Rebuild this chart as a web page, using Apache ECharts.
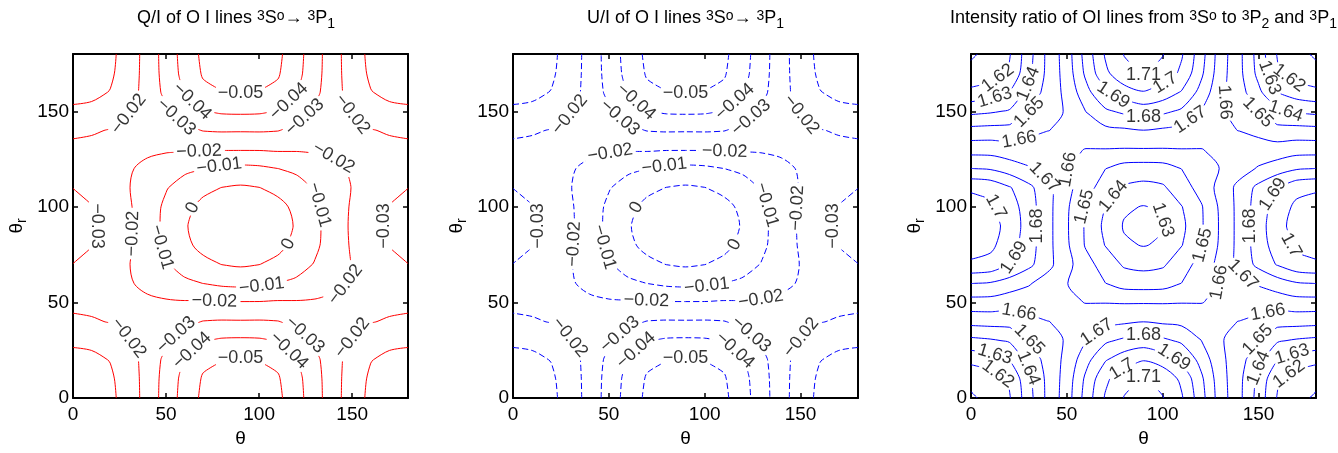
<!DOCTYPE html>
<html>
<head>
<meta charset="utf-8">
<title>O I line polarization maps</title>
<script src="https://cdn.jsdelivr.net/npm/echarts@6.0.0/dist/echarts.min.js"></script>
<style>
  html, body { margin: 0; padding: 0; background: #fff; }
  #chart { width: 1338px; height: 453px; }
</style>
</head>
<body>
<div id="chart"></div>
<script>
// Sample angles (degrees) of the computed maps; used for both theta and theta_r
const angleSamples = [0, 10, 20, 30, 40, 50, 60, 70, 80, 90, 100, 110, 120, 130, 140, 150, 160, 170, 180];
const angleTicks = [0, 50, 100, 150];

// Contour levels
const qOverILevels = [-0.05, -0.04, -0.03, -0.02, -0.01, 0];
const uOverILevels = [-0.05, -0.04, -0.03, -0.02, -0.01, 0];
const ratioLevels = [1.61, 1.62, 1.63, 1.64, 1.65, 1.66, 1.67, 1.68, 1.69, 1.7, 1.71];

// Q/I map: rows are theta_r = 0..180, columns are theta = 0..180
const qOverI = [
  [-0.0040,-0.0053,-0.0079,-0.0144,-0.0240,-0.0340,-0.0440,-0.0521,-0.0552,-0.0560,-0.0552,-0.0521,-0.0440,-0.0340,-0.0240,-0.0144,-0.0079,-0.0053,-0.0040],
  [-0.0049,-0.0061,-0.0086,-0.0148,-0.0240,-0.0336,-0.0432,-0.0510,-0.0540,-0.0547,-0.0540,-0.0510,-0.0432,-0.0336,-0.0240,-0.0148,-0.0086,-0.0061,-0.0049],
  [-0.0073,-0.0082,-0.0103,-0.0158,-0.0239,-0.0324,-0.0410,-0.0479,-0.0498,-0.0506,-0.0498,-0.0479,-0.0410,-0.0324,-0.0239,-0.0158,-0.0103,-0.0082,-0.0073],
  [-0.0115,-0.0119,-0.0140,-0.0196,-0.0240,-0.0290,-0.0347,-0.0397,-0.0414,-0.0417,-0.0414,-0.0397,-0.0347,-0.0290,-0.0240,-0.0196,-0.0140,-0.0119,-0.0115],
  [-0.0175,-0.0190,-0.0205,-0.0225,-0.0235,-0.0255,-0.0278,-0.0303,-0.0308,-0.0307,-0.0308,-0.0303,-0.0278,-0.0255,-0.0235,-0.0225,-0.0205,-0.0190,-0.0175],
  [-0.0232,-0.0228,-0.0222,-0.0225,-0.0220,-0.0212,-0.0209,-0.0211,-0.0206,-0.0206,-0.0206,-0.0211,-0.0209,-0.0212,-0.0220,-0.0225,-0.0222,-0.0228,-0.0232],
  [-0.0271,-0.0255,-0.0228,-0.0210,-0.0174,-0.0145,-0.0119,-0.0099,-0.0081,-0.0073,-0.0081,-0.0099,-0.0119,-0.0145,-0.0174,-0.0210,-0.0228,-0.0255,-0.0271],
  [-0.0299,-0.0279,-0.0241,-0.0203,-0.0156,-0.0106,-0.0060,-0.0024,0.0002,0.0012,0.0002,-0.0024,-0.0060,-0.0106,-0.0156,-0.0203,-0.0241,-0.0279,-0.0299],
  [-0.0328,-0.0303,-0.0259,-0.0211,-0.0148,-0.0082,-0.0021,0.0027,0.0059,0.0071,0.0059,0.0027,-0.0021,-0.0082,-0.0148,-0.0211,-0.0259,-0.0303,-0.0328],
  [-0.0340,-0.0314,-0.0267,-0.0215,-0.0147,-0.0076,-0.0009,0.0043,0.0077,0.0090,0.0077,0.0043,-0.0009,-0.0076,-0.0147,-0.0215,-0.0267,-0.0314,-0.0340],
  [-0.0328,-0.0303,-0.0259,-0.0211,-0.0148,-0.0082,-0.0021,0.0027,0.0059,0.0071,0.0059,0.0027,-0.0021,-0.0082,-0.0148,-0.0211,-0.0259,-0.0303,-0.0328],
  [-0.0299,-0.0279,-0.0241,-0.0203,-0.0156,-0.0106,-0.0060,-0.0024,0.0002,0.0012,0.0002,-0.0024,-0.0060,-0.0106,-0.0156,-0.0203,-0.0241,-0.0279,-0.0299],
  [-0.0271,-0.0255,-0.0228,-0.0210,-0.0174,-0.0145,-0.0119,-0.0099,-0.0081,-0.0073,-0.0081,-0.0099,-0.0119,-0.0145,-0.0174,-0.0210,-0.0228,-0.0255,-0.0271],
  [-0.0232,-0.0228,-0.0222,-0.0225,-0.0220,-0.0212,-0.0209,-0.0211,-0.0206,-0.0206,-0.0206,-0.0211,-0.0209,-0.0212,-0.0220,-0.0225,-0.0222,-0.0228,-0.0232],
  [-0.0175,-0.0190,-0.0205,-0.0225,-0.0235,-0.0255,-0.0278,-0.0303,-0.0308,-0.0307,-0.0308,-0.0303,-0.0278,-0.0255,-0.0235,-0.0225,-0.0205,-0.0190,-0.0175],
  [-0.0115,-0.0119,-0.0140,-0.0196,-0.0240,-0.0290,-0.0347,-0.0397,-0.0414,-0.0417,-0.0414,-0.0397,-0.0347,-0.0290,-0.0240,-0.0196,-0.0140,-0.0119,-0.0115],
  [-0.0073,-0.0082,-0.0103,-0.0158,-0.0239,-0.0324,-0.0410,-0.0479,-0.0498,-0.0506,-0.0498,-0.0479,-0.0410,-0.0324,-0.0239,-0.0158,-0.0103,-0.0082,-0.0073],
  [-0.0049,-0.0061,-0.0086,-0.0148,-0.0240,-0.0336,-0.0432,-0.0510,-0.0540,-0.0547,-0.0540,-0.0510,-0.0432,-0.0336,-0.0240,-0.0148,-0.0086,-0.0061,-0.0049],
  [-0.0040,-0.0053,-0.0079,-0.0144,-0.0240,-0.0340,-0.0440,-0.0521,-0.0552,-0.0560,-0.0552,-0.0521,-0.0440,-0.0340,-0.0240,-0.0144,-0.0079,-0.0053,-0.0040]
];

// U/I map shares the Q/I pattern for this scattering geometry
const uOverI = qOverI;

// Intensity ratio I(3P2)/I(3P1): rows theta_r = 0..180, columns theta = 0..180
const intensityRatio = [
  [1.6090,1.6120,1.6190,1.6360,1.6525,1.6650,1.6842,1.7009,1.7105,1.7150,1.7105,1.7009,1.6842,1.6650,1.6525,1.6360,1.6190,1.6120,1.6090],
  [1.6120,1.6148,1.6213,1.6372,1.6527,1.6642,1.6822,1.6979,1.7068,1.7111,1.7068,1.6979,1.6822,1.6642,1.6527,1.6372,1.6213,1.6148,1.6120],
  [1.6228,1.6250,1.6296,1.6423,1.6542,1.6625,1.6767,1.6891,1.6959,1.6994,1.6959,1.6891,1.6767,1.6625,1.6542,1.6423,1.6296,1.6250,1.6228],
  [1.6373,1.6387,1.6410,1.6493,1.6566,1.6608,1.6702,1.6782,1.6821,1.6846,1.6821,1.6782,1.6702,1.6608,1.6566,1.6493,1.6410,1.6387,1.6373],
  [1.6533,1.6538,1.6538,1.6575,1.6599,1.6608,1.6639,1.6675,1.6684,1.6698,1.6684,1.6675,1.6639,1.6608,1.6599,1.6575,1.6538,1.6538,1.6533],
  [1.6660,1.6660,1.6642,1.6642,1.6632,1.6612,1.6598,1.6597,1.6594,1.6594,1.6594,1.6597,1.6598,1.6612,1.6632,1.6642,1.6642,1.6660,1.6660],
  [1.6802,1.6792,1.6752,1.6710,1.6656,1.6603,1.6544,1.6502,1.6459,1.6454,1.6459,1.6502,1.6544,1.6603,1.6656,1.6710,1.6752,1.6792,1.6802],
  [1.6986,1.6971,1.6910,1.6827,1.6731,1.6631,1.6536,1.6455,1.6386,1.6371,1.6386,1.6455,1.6536,1.6631,1.6731,1.6827,1.6910,1.6971,1.6986],
  [1.7040,1.7021,1.6951,1.6848,1.6732,1.6616,1.6489,1.6397,1.6314,1.6295,1.6314,1.6397,1.6489,1.6616,1.6732,1.6848,1.6951,1.7021,1.7040],
  [1.7060,1.7040,1.6966,1.6856,1.6733,1.6611,1.6486,1.6378,1.6291,1.6270,1.6291,1.6378,1.6486,1.6611,1.6733,1.6856,1.6966,1.7040,1.7060],
  [1.7040,1.7021,1.6951,1.6848,1.6732,1.6616,1.6489,1.6397,1.6314,1.6295,1.6314,1.6397,1.6489,1.6616,1.6732,1.6848,1.6951,1.7021,1.7040],
  [1.6986,1.6971,1.6910,1.6827,1.6731,1.6631,1.6536,1.6455,1.6386,1.6371,1.6386,1.6455,1.6536,1.6631,1.6731,1.6827,1.6910,1.6971,1.6986],
  [1.6802,1.6792,1.6752,1.6710,1.6656,1.6603,1.6544,1.6502,1.6459,1.6454,1.6459,1.6502,1.6544,1.6603,1.6656,1.6710,1.6752,1.6792,1.6802],
  [1.6660,1.6660,1.6642,1.6642,1.6632,1.6612,1.6598,1.6597,1.6594,1.6594,1.6594,1.6597,1.6598,1.6612,1.6632,1.6642,1.6642,1.6660,1.6660],
  [1.6533,1.6538,1.6538,1.6575,1.6599,1.6608,1.6639,1.6675,1.6684,1.6698,1.6684,1.6675,1.6639,1.6608,1.6599,1.6575,1.6538,1.6538,1.6533],
  [1.6373,1.6387,1.6410,1.6493,1.6566,1.6608,1.6702,1.6782,1.6821,1.6846,1.6821,1.6782,1.6702,1.6608,1.6566,1.6493,1.6410,1.6387,1.6373],
  [1.6228,1.6250,1.6296,1.6423,1.6542,1.6625,1.6767,1.6891,1.6959,1.6994,1.6959,1.6891,1.6767,1.6625,1.6542,1.6423,1.6296,1.6250,1.6228],
  [1.6120,1.6148,1.6213,1.6372,1.6527,1.6642,1.6822,1.6979,1.7068,1.7111,1.7068,1.6979,1.6822,1.6642,1.6527,1.6372,1.6213,1.6148,1.6120],
  [1.6090,1.6120,1.6190,1.6360,1.6525,1.6650,1.6842,1.7009,1.7105,1.7150,1.7105,1.7009,1.6842,1.6650,1.6525,1.6360,1.6190,1.6120,1.6090]
];

const titles = [
  '{m|Q/I of O I lines }{sp|3}{m|S}{sp|o}{m|\u2192 }{sp|3}{m|P}{sb|1}',
  '{m|U/I of O I lines }{sp|3}{m|S}{sp|o}{m|\u2192 }{sp|3}{m|P}{sb|1}',
  '{m|Intensity ratio of OI lines from }{sp|3}{m|S}{sp|o}{m| to }{sp|3}{m|P}{sb|2}{m| and }{sp|3}{m|P}{sb|1}'
];

// ---------- presentation ----------
const FONT = '"Liberation Sans", Arial, Helvetica, sans-serif';
const FONT_SIZE = 18;
const PLOT_TOP = 54, PLOT_HEIGHT = 348;
const panelBoxes = [
  { left: 64, width: 344 },
  { left: 513, width: 345 },
  { left: 971, width: 345 }
];
// line look and inline-label placement per panel (spacing in px along a contour)
const panelStyles = [
  { color: '#ff0000', type: 'solid', spacing: 125, minLength: 2.0, stagger: [0] },
  { color: '#0000ff', type: [6, 3], spacing: 125, minLength: 2.0, stagger: [0] },
  { color: '#0000ff', type: 'solid', spacing: 250, minLength: 1.5, stagger: [-0.2, 0, 0.2] }
];

const chart = echarts.init(document.getElementById('chart'), null, { renderer: 'canvas' });

function axisFrame(k, dim, position, showLabels) {
  const ax = {
    type: 'value', gridIndex: k, position: position, min: 0, max: 180,
    axisLine: { show: true, onZero: false, lineStyle: { color: '#000', width: 2 } },
    axisTick: { show: true, inside: true, length: 5, customValues: angleTicks, lineStyle: { color: '#000', width: 1.5 } },
    axisLabel: { show: showLabels, customValues: angleTicks, color: '#000', fontSize: FONT_SIZE + 1, fontFamily: FONT,
                 margin: dim === 'x' ? 7 : 4 },
    splitLine: { show: false }
  };
  if (showLabels && dim === 'x') {
    ax.name = '\u03b8';
    ax.nameLocation = 'middle';
    ax.nameGap = 31;
    ax.nameTextStyle = { color: '#000', fontSize: FONT_SIZE + 1, fontFamily: FONT, verticalAlign: 'top' };
  }
  if (showLabels && dim === 'y') {
    ax.name = '{a|\u03b8}{b|r}';
    ax.nameLocation = 'middle';
    ax.nameRotate = 90;
    ax.nameGap = 44;
    ax.nameTextStyle = {
      rich: {
        a: { color: '#000', fontSize: FONT_SIZE + 1, fontFamily: FONT, lineHeight: 22, verticalAlign: 'top' },
        b: { color: '#000', fontSize: 14, fontFamily: FONT, lineHeight: 14, verticalAlign: 'bottom', padding: [14, 0, 0, 0] }
      }
    };
  }
  return ax;
}

const grids = [], xAxes = [], yAxes = [];
panelBoxes.forEach((b, k) => {
  grids.push({ left: b.left, top: PLOT_TOP, width: b.width, height: PLOT_HEIGHT });
  xAxes.push(axisFrame(k, 'x', 'bottom', true), axisFrame(k, 'x', 'top', false));
  yAxes.push(axisFrame(k, 'y', 'left', true), axisFrame(k, 'y', 'right', false));
});

const titleRich = {
  m: { fontSize: FONT_SIZE, fontFamily: FONT, fill: '#000', lineHeight: 22, verticalAlign: 'top' },
  sp: { fontSize: 14, fontFamily: FONT, fill: '#000', lineHeight: 16, verticalAlign: 'top' },
  sb: { fontSize: 14, fontFamily: FONT, fill: '#000', lineHeight: 14, verticalAlign: 'bottom', padding: [17, 0, 0, 0] }
};

chart.setOption({
  animation: false,
  backgroundColor: '#fff',
  grid: grids,
  xAxis: xAxes,
  yAxis: yAxes,
  graphic: titles.map((t, k) => ({
    type: 'text',
    x: panelBoxes[k].left + panelBoxes[k].width / 2,
    y: 9,
    style: { text: t, rich: titleRich, align: 'center', verticalAlign: 'top', fill: '#000',
             fontSize: FONT_SIZE, fontFamily: FONT }
  }))
});

// ---------- contouring (marching squares on the sampled map) ----------
function traceContours(z, xs, ys, level) {
  const segs = [];
  const val = (j, i) => {
    const v = z[j][i];
    return Math.abs(v - level) < 1e-10 ? v + 1e-7 : v;
  };
  const cut = (key, x1, y1, v1, x2, y2, v2) => {
    const t = (level - v1) / (v2 - v1);
    return { k: key, x: x1 + t * (x2 - x1), y: y1 + t * (y2 - y1) };
  };
  for (let j = 0; j < ys.length - 1; j++) {
    for (let i = 0; i < xs.length - 1; i++) {
      const a = val(j, i), b = val(j, i + 1), c = val(j + 1, i + 1), d = val(j + 1, i);
      const x0 = xs[i], x1 = xs[i + 1], y0 = ys[j], y1 = ys[j + 1];
      const sa = a > level, sb = b > level, sc = c > level, sd = d > level;
      const bottom = sa !== sb ? cut('h' + j + '_' + i, x0, y0, a, x1, y0, b) : null;
      const right = sb !== sc ? cut('v' + j + '_' + (i + 1), x1, y0, b, x1, y1, c) : null;
      const top = sd !== sc ? cut('h' + (j + 1) + '_' + i, x0, y1, d, x1, y1, c) : null;
      const left = sa !== sd ? cut('v' + j + '_' + i, x0, y0, a, x0, y1, d) : null;
      const hits = [bottom, right, top, left].filter(Boolean);
      if (hits.length === 2) {
        segs.push([hits[0], hits[1]]);
      } else if (hits.length === 4) {
        const centreHigh = (a + b + c + d) / 4 > level;
        if (centreHigh === sa) { segs.push([bottom, right]); segs.push([top, left]); }
        else { segs.push([left, bottom]); segs.push([right, top]); }
      }
    }
  }
  // join segments into polylines through shared cell edges
  const byKey = new Map();
  segs.forEach((s, n) => s.forEach(p => {
    if (!byKey.has(p.k)) byKey.set(p.k, []);
    byKey.get(p.k).push(n);
  }));
  const used = new Array(segs.length).fill(false);
  const lines = [];
  for (let n = 0; n < segs.length; n++) {
    if (used[n]) continue;
    used[n] = true;
    const pts = [segs[n][0], segs[n][1]];
    for (let pass = 0; pass < 2; pass++) {
      for (;;) {
        const end = pts[pts.length - 1];
        const next = (byKey.get(end.k) || []).find(m => !used[m]);
        if (next === undefined) break;
        used[next] = true;
        const s = segs[next];
        pts.push(s[0].k === end.k ? s[1] : s[0]);
      }
      pts.reverse();
    }
    const closed = pts.length > 3 && pts[0].k === pts[pts.length - 1].k;
    lines.push({ pts: pts.map(p => [p.x, p.y]), closed: closed });
  }
  return lines;
}

function levelText(v) {
  let s = String(Math.round(v * 100) / 100);
  if (s === '-0') s = '0';
  return s.replace('-', '\u2212');
}

const measure = document.createElement('canvas').getContext('2d');
measure.font = FONT_SIZE + 'px ' + FONT;

const maps = [
  { z: qOverI, levels: qOverILevels },
  { z: uOverI, levels: uOverILevels },
  { z: intensityRatio, levels: ratioLevels }
];

const series = [];
maps.forEach((mp, k) => {
  const axisRef = { xAxisIndex: 2 * k, yAxisIndex: 2 * k };
  const style = panelStyles[k];
  const labelItems = [];
  mp.levels.forEach((level, li) => {
    const text = levelText(level);
    const w = measure.measureText(text).width;
    traceContours(mp.z, angleSamples, angleSamples, level).forEach(line => {
      const data = line.pts;
      const px = data.map(p => chart.convertToPixel(axisRef, p));
      const d = [0];
      for (let i = 1; i < px.length; i++) {
        d.push(d[i - 1] + Math.hypot(px[i][0] - px[i - 1][0], px[i][1] - px[i - 1][1]));
      }
      const L = d[d.length - 1];
      const at = (s, arr) => {
        s = Math.min(Math.max(s, 0), L);
        let i = 1;
        while (i < d.length - 1 && d[i] < s) i++;
        const seg = d[i] - d[i - 1];
        const t = seg > 0 ? (s - d[i - 1]) / seg : 0;
        return [arr[i - 1][0] + t * (arr[i][0] - arr[i - 1][0]), arr[i - 1][1] + t * (arr[i][1] - arr[i - 1][1])];
      };
      const gaps = [];
      if (L >= style.minLength * w) {
        const m = Math.max(1, Math.round(L / style.spacing));
        const shift = m === 1 ? style.stagger[li % style.stagger.length] : 0;
        for (let q = 0; q < m; q++) {
          let s = L * (q + 0.5 + shift) / m;
          s = Math.min(Math.max(s, w / 2 + 4), L - w / 2 - 4);
          const p1 = at(s - w / 2, px), p2 = at(s + w / 2, px);
          let ang = Math.atan2(-(p2[1] - p1[1]), p2[0] - p1[0]) * 180 / Math.PI;
          if (ang > 90) ang -= 180;
          if (ang <= -90) ang += 180;
          labelItems.push({ name: text, value: at(s, data), label: { rotate: ang } });
          gaps.push([s - w / 2 - 3, s + w / 2 + 3]);
        }
      }
      const bounds = [0];
      gaps.forEach(g => bounds.push(g[0], g[1]));
      bounds.push(L);
      let pieces = [];
      for (let q = 0; q < bounds.length; q += 2) {
        const s0 = bounds[q], s1 = bounds[q + 1];
        const piece = [at(s0, data)];
        for (let i = 0; i < d.length; i++) if (d[i] > s0 && d[i] < s1) piece.push(data[i]);
        piece.push(at(s1, data));
        pieces.push(piece);
      }
      if (line.closed && gaps.length && pieces.length > 1) {
        const first = pieces.shift();
        const last = pieces.pop();
        pieces.push(last.concat(first.slice(1)));
      }
      pieces.filter(pc => pc.length > 1).forEach(pc => {
        series.push({
          type: 'line', xAxisIndex: 2 * k, yAxisIndex: 2 * k, data: pc,
          showSymbol: false, symbol: 'none', smooth: 0.3, silent: true, z: 2,
          lineStyle: { color: style.color, width: 1, type: style.type }
        });
      });
    });
  });
  series.push({
    type: 'scatter', xAxisIndex: 2 * k, yAxisIndex: 2 * k, data: labelItems,
    symbolSize: 0.1, itemStyle: { color: 'rgba(0,0,0,0)' }, silent: true, z: 3,
    label: { show: true, position: 'inside', formatter: '{b}', color: '#000',
             fontSize: FONT_SIZE, fontFamily: FONT }
  });
});

chart.setOption({ series: series });
</script>
</body>
</html>
